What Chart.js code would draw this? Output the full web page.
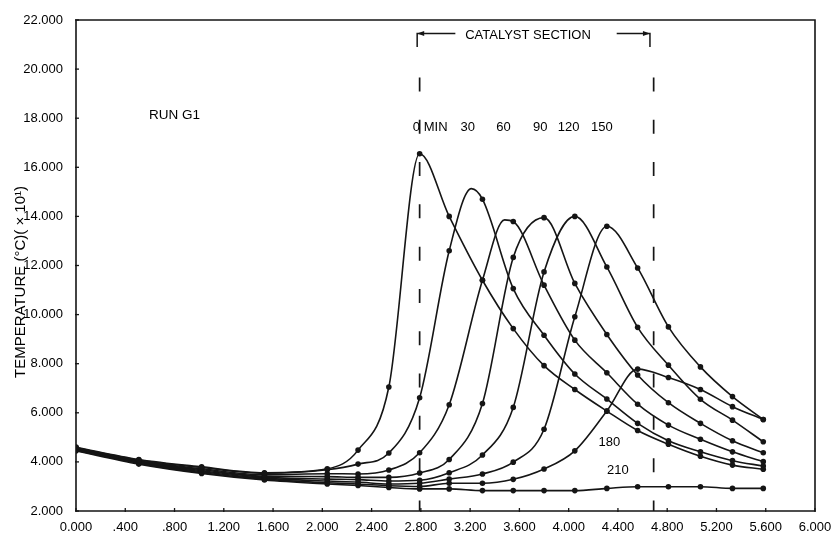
<!DOCTYPE html>
<html>
<head>
<meta charset="utf-8">
<script src="https://cdn.jsdelivr.net/npm/chart.js@4/dist/chart.umd.min.js"></script>
<style>
  html, body { margin: 0; padding: 0; background: #ffffff; }
  #wrap { position: relative; width: 832px; height: 544px; }
</style>
</head>
<body>
<div id="wrap"><canvas id="c" width="832" height="544"></canvas></div>
<script>
// ---------------- data ----------------
const distance = [0, 0.51, 1.02, 1.53, 2.04, 2.29, 2.54, 2.79, 3.03, 3.30, 3.55, 3.80, 4.05, 4.31, 4.56, 4.81, 5.07, 5.33, 5.58];

const seriesLabels = ['0 MIN', '30', '60', '90', '120', '150', '180', '210'];

const temp0   = [4.60, 4.10, 3.80, 3.56, 3.72, 4.48, 7.05, 16.55, 14.00, 11.40, 9.43, 7.92, 6.95, 6.07, 5.28, 4.72, 4.23, 3.87, 3.70];
const temp30  = [4.58, 4.08, 3.77, 3.54, 3.68, 3.91, 4.36, 6.61, 12.60, 14.70, 11.06, 9.16, 7.58, 6.56, 5.57, 4.86, 4.41, 4.05, 3.83];
const temp60  = [4.56, 4.05, 3.72, 3.48, 3.52, 3.51, 3.67, 4.37, 6.33, 11.40, 13.79, 11.20, 8.96, 7.63, 6.35, 5.50, 4.92, 4.41, 4.01];
const temp90  = [4.54, 4.02, 3.68, 3.42, 3.40, 3.37, 3.37, 3.55, 4.10, 6.38, 12.33, 13.95, 11.27, 9.19, 7.54, 6.41, 5.57, 4.86, 4.37];
const temp120 = [4.52, 4.00, 3.64, 3.38, 3.30, 3.28, 3.22, 3.25, 3.56, 4.28, 6.22, 11.74, 14.00, 11.94, 9.48, 7.94, 6.55, 5.70, 4.82];
const temp150 = [4.50, 3.97, 3.60, 3.34, 3.22, 3.18, 3.10, 3.13, 3.30, 3.51, 3.99, 5.33, 9.91, 13.60, 11.90, 9.50, 7.87, 6.66, 5.73];
const temp180 = [4.47, 3.94, 3.56, 3.30, 3.15, 3.10, 3.03, 3.00, 3.13, 3.13, 3.29, 3.71, 4.45, 6.07, 7.78, 7.44, 6.95, 6.25, 5.73];
const temp210 = [4.45, 3.91, 3.53, 3.26, 3.10, 3.04, 2.96, 2.90, 2.90, 2.83, 2.83, 2.83, 2.83, 2.92, 2.99, 2.99, 2.99, 2.92, 2.92];

// visible curve tops that fall between measured points (drawn without a marker)
const apexDistance = [null, 3.21, 3.48, null, null, null, null, null];
const apexTemp     = [null, 15.13, 13.86, null, null, null, null, null];

const xTickLabels = ['0.000', '.400', '.800', '1.200', '1.600', '2.000', '2.400', '2.800', '3.200', '3.600', '4.000', '4.400', '4.800', '5.200', '5.600', '6.000'];
const yTickLabels = ['2.000', '4.000', '6.000', '8.000', '10.000', '12.000', '14.000', '16.000', '18.000', '20.000', '22.000'];

const catalystStart = 2.79;
const catalystEnd = 4.69;

// ---------------- chart ----------------
const allTemps = [temp0, temp30, temp60, temp90, temp120, temp150, temp180, temp210];
const INK = '#151515';
const FONT = '"Liberation Sans Narrow", "Liberation Sans", Arial, sans-serif';

const datasets = allTemps.map((arr, s) => {
  const pts = distance.map((x, i) => ({ x: x, y: arr[i], apex: false }));
  if (apexDistance[s] !== null) pts.push({ x: apexDistance[s], y: apexTemp[s], apex: true });
  pts.sort((a, b) => a.x - b.x);
  return {
    label: seriesLabels[s],
    data: pts,
    borderColor: INK,
    backgroundColor: INK,
    borderWidth: 1.6,
    cubicInterpolationMode: 'monotone',
    pointRadius: ctx => (ctx.raw && ctx.raw.apex) ? 0 : 2.8,
    pointHoverRadius: 0,
    pointBorderWidth: 0,
    pointBackgroundColor: INK,
    fill: false
  };
});

const annotations = {
  id: 'annotations',
  beforeDatasetsDraw(chart) {
    const { ctx, chartArea: a, scales: { x, y } } = chart;
    ctx.save();
    ctx.strokeStyle = INK;
    ctx.lineWidth = 1.7;
    ctx.setLineDash([14, 28.3]);
    [catalystStart, catalystEnd].forEach(v => {
      const px = x.getPixelForValue(v);
      ctx.beginPath();
      ctx.moveTo(px, y.getPixelForValue(19.66));
      ctx.lineTo(px, a.bottom);
      ctx.stroke();
    });
    ctx.restore();
  },
  afterDraw(chart) {
    const { ctx, chartArea: a, scales: { x, y } } = chart;
    ctx.save();
    ctx.strokeStyle = INK;
    ctx.lineWidth = 1.6;
    ctx.setLineDash([]);
    ctx.beginPath();
    ctx.moveTo(a.left, a.bottom);
    ctx.lineTo(a.left, a.top);
    ctx.lineTo(a.right, a.top);
    ctx.lineTo(a.right, a.bottom);
    ctx.lineTo(a.left, a.bottom);
    ctx.stroke();
    ctx.lineWidth = 1.3;
    xTickLabels.forEach((_, i) => {
      const px = x.getPixelForValue(i * 0.4);
      ctx.beginPath(); ctx.moveTo(px, a.bottom + 1); ctx.lineTo(px, a.bottom - 3); ctx.stroke();
    });
    yTickLabels.forEach((_, i) => {
      const py = y.getPixelForValue(2 + i * 2);
      ctx.beginPath(); ctx.moveTo(a.left - 1, py); ctx.lineTo(a.left + 3, py); ctx.stroke();
    });

    // catalyst section arrow
    const xs = x.getPixelForValue(catalystStart - 0.02);
    const xe = x.getPixelForValue(catalystEnd - 0.03);
    const ya = y.getPixelForValue(21.45);
    const yb = y.getPixelForValue(20.9);
    ctx.lineWidth = 1.5;
    ctx.beginPath();
    ctx.moveTo(xs, yb); ctx.lineTo(xs, ya); ctx.lineTo(x.getPixelForValue(3.08), ya);
    ctx.moveTo(x.getPixelForValue(4.39), ya); ctx.lineTo(xe, ya); ctx.lineTo(xe, yb);
    ctx.stroke();
    ctx.fillStyle = INK;
    ctx.beginPath(); ctx.moveTo(xs, ya); ctx.lineTo(xs + 7, ya - 2.5); ctx.lineTo(xs + 7, ya + 2.5); ctx.closePath(); ctx.fill();
    ctx.beginPath(); ctx.moveTo(xe, ya); ctx.lineTo(xe - 7, ya - 2.5); ctx.lineTo(xe - 7, ya + 2.5); ctx.closePath(); ctx.fill();

    // texts
    ctx.fillStyle = '#000';
    ctx.textBaseline = 'middle';
    ctx.font = '13px ' + FONT;
    ctx.textAlign = 'center';
    ctx.fillText('CATALYST SECTION', x.getPixelForValue(3.67), y.getPixelForValue(21.37));
    ctx.font = '13.5px ' + FONT;
    ctx.fillText('RUN G1', x.getPixelForValue(0.80), y.getPixelForValue(18.12));
    ctx.font = '13px ' + FONT;
    const labelY = y.getPixelForValue(17.63);
    ctx.textAlign = 'left';
    ctx.fillText(seriesLabels[0], x.getPixelForValue(2.735), labelY);
    ctx.textAlign = 'center';
    const labelX = [null, 3.18, 3.47, 3.77, 4.00, 4.27];
    for (let i = 1; i <= 5; i++) ctx.fillText(seriesLabels[i], x.getPixelForValue(labelX[i]), labelY);
    ctx.fillText(seriesLabels[6], x.getPixelForValue(4.33), y.getPixelForValue(4.81));
    ctx.fillText(seriesLabels[7], x.getPixelForValue(4.40), y.getPixelForValue(3.67));

    // y axis title
    ctx.save();
    ctx.translate(21, y.getPixelForValue(11.33));
    ctx.rotate(-Math.PI / 2);
    ctx.font = '15px ' + FONT;
    ctx.textAlign = 'center';
    ctx.fillText('TEMPERATURE (°C)( × 10¹)', 0, 0);
    ctx.restore();
    ctx.restore();
  }
};

new Chart(document.getElementById('c'), {
  type: 'line',
  data: { datasets },
  options: {
    responsive: false,
    devicePixelRatio: 1,
    animation: false,
    events: [],
    layout: { padding: { top: 20, right: 17, left: 0, bottom: 0 } },
    plugins: { legend: { display: false }, tooltip: { enabled: false }, title: { display: false } },
    scales: {
      x: {
        type: 'linear',
        min: 0, max: 6,
        afterFit: s => { s.height = 33; s.paddingRight = 0; s.paddingLeft = 0; },
        afterBuildTicks: s => { s.ticks = xTickLabels.map((_, i) => ({ value: i * 0.4 })); },
        grid: { display: false, drawTicks: false },
        border: { display: false },
        ticks: {
          autoSkip: false, maxRotation: 0, padding: 9,
          color: '#000', font: { family: FONT, size: 13 },
          callback: (v, i) => xTickLabels[i]
        }
      },
      y: {
        type: 'linear',
        min: 2, max: 22,
        afterFit: s => { s.width = 76; s.paddingTop = 0; s.paddingBottom = 0; },
        afterBuildTicks: s => { s.ticks = yTickLabels.map((_, i) => ({ value: 2 + i * 2 })); },
        grid: { display: false, drawTicks: false },
        border: { display: false },
        ticks: {
          autoSkip: false, padding: 13,
          color: '#000', font: { family: FONT, size: 13 },
          callback: (v, i) => yTickLabels[i]
        }
      }
    }
  },
  plugins: [annotations]
});
</script>
</body>
</html>
